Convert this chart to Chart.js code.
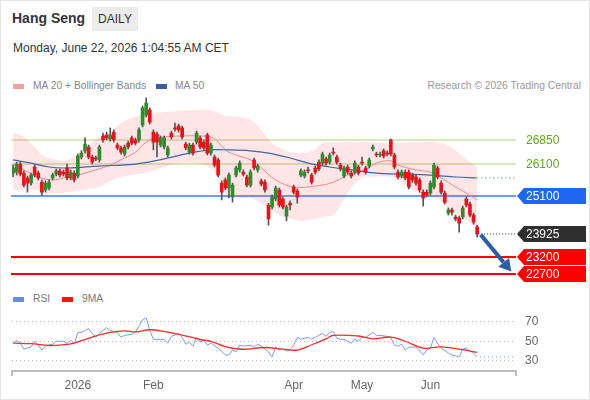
<!DOCTYPE html>
<html>
<head>
<meta charset="utf-8">
<script src="https://cdn.jsdelivr.net/npm/chart.js@4.4.1/dist/chart.umd.min.js"></script>
<style>
  body { margin: 0; background: #fff; font-family: "Liberation Sans", Arial, sans-serif; }
  #wrap { position: relative; width: 590px; height: 400px; overflow: hidden; }
  #frame { position: absolute; left: 0; top: 0; width: 588px; height: 398px; border: 1px solid #e4e4e4; }
  .abs { position: absolute; white-space: nowrap; }
  #title { left: 12px; top: 10px; font-size: 14px; font-weight: bold; color: #333; }
  #daily { left: 92px; top: 7px; width: 46px; height: 24px; line-height: 24px; text-align: center; background: #ececec; font-size: 12px; color: #333; }
  #date { left: 13px; top: 41px; font-size: 12px; color: #333; }
  .leg { font-size: 10.3px; color: #888; }
  .sw { position: absolute; width: 11px; height: 5px; }
  canvas { position: absolute; left: 0; }
</style>
</head>
<body>
<div id="wrap">
  <div id="frame"></div>
  <div class="abs" id="title">Hang Seng</div>
  <div class="abs" id="daily">DAILY</div>
  <div class="abs" id="date">Monday, June 22, 2026 1:04:55 AM CET</div>

  <div class="sw" style="left:13px;top:84px;background:#f4a0a0;"></div>
  <div class="abs leg" style="left:33px;top:80px;">MA 20 + Bollinger Bands</div>
  <div class="sw" style="left:156px;top:84px;background:#3a5e9e;"></div>
  <div class="abs leg" style="left:175px;top:80px;">MA 50</div>
  <div class="abs leg" style="right:9px;top:80px;color:#999;">Research © 2026 Trading Central</div>

  <div class="sw" style="left:13px;top:297px;background:#6b8de0;"></div>
  <div class="abs leg" style="left:33px;top:293px;color:#777;">RSI</div>
  <div class="sw" style="left:62px;top:297px;background:#ff1010;"></div>
  <div class="abs leg" style="left:82px;top:293px;color:#777;">9MA</div>

  <canvas id="price" width="590" height="200" style="top:90px"></canvas>
  <canvas id="rsi" width="590" height="90" style="top:305px"></canvas>
</div>
<script>
// daily candles, Dec 2025 .. Jun 19 2026
const opens = [25810,25840,26090,25810,25660,25500,26000,25810,25530,25290,
  25350,25660,25780,25880,25840,25970,25660,25810,25720,26310,
  26500,26620,26310,26280,26220,26960,26990,26870,27080,26680,
  26590,26400,26740,26900,26840,26840,27300,27610,27770,27080,
  27020,26680,26620,26370,27050,27210,27270,27210,26710,26460,
  26680,26770,26900,26770,26990,26430,26310,26220,25500,25600,
  25350,25070,25750,25910,25840,25690,25440,26220,25910,25570,
  25530,24820,24760,25010,25290,25010,24480,24880,25380,25260,
  25750,25720,25910,25750,25970,26150,26120,26250,26150,26460,
  26310,26060,25720,26000,25810,25840,26000,26150,25970,26030,
  26560,26400,26370,26500,26430,26840,26370,25840,25720,25840,
  25840,25750,25690,25600,25220,25220,25190,25380,25970,25500,
  25190,24570,24670,24450,24420,24450,25010,24850,24510,24140];
const highs = [26060,26150,26150,25880,25720,25810,26060,25880,25600,25570,
  25600,25810,25940,25940,25910,26090,25910,25880,26400,26500,
  26900,26680,26370,26340,26680,27050,27080,27210,27150,26740,
  26650,26680,26800,26960,26900,27210,27890,28140,27830,27150,
  27080,26960,26960,26650,27110,27360,27330,27270,26770,26740,
  26740,27110,26960,26840,27050,26740,26370,26280,25570,25660,
  25810,25500,26030,26190,25910,25750,25910,26280,26090,25630,
  25600,24880,25130,25410,25350,25070,24820,24950,25440,25320,
  25940,25910,26000,25810,26030,26220,26460,26310,26430,26590,
  26370,26120,26030,26060,25880,26190,26060,26310,26030,26280,
  26680,26460,26460,26560,26500,26870,26430,25910,25910,25910,
  25910,25810,25750,25660,25290,25290,25570,26120,26030,25570,
  25260,24730,24730,24510,24480,24790,25070,24910,24570,24200];
const lows = [25690,25750,25720,25380,25220,25440,25690,25600,25130,25220,
  25290,25600,25720,25690,25720,25600,25600,25530,25660,26250,
  26430,26250,26090,26190,26150,26770,26840,26800,26770,26530,
  26400,26340,26560,26680,26680,26770,27240,27550,27330,26530,
  26310,26620,26560,26310,26870,27110,27080,26870,26530,26400,
  26370,26710,26560,26530,26370,26370,26000,25690,24980,25290,
  25040,24910,25690,25840,25720,25380,25380,25910,25840,25410,
  25220,24200,24700,24950,24760,24700,24330,24670,25160,24880,
  25690,25660,25810,25470,25780,25880,26060,26060,26090,26370,
  26090,25880,25660,25780,25660,25780,25750,26060,25780,25970,
  26500,26310,26310,26280,26340,26340,25940,25630,25660,25600,
  25320,25530,25440,25220,24790,25070,25130,25320,25630,25160,
  24850,24510,24510,24330,23980,24390,24760,24450,24230,23830];
const closes = [25970,26090,25780,25440,25500,25750,25750,25660,25220,25500,
  25530,25750,25880,25750,25780,25660,25840,25600,26340,26430,
  26710,26310,26150,26250,26620,26840,26900,26990,26840,26590,
  26460,26620,26620,26740,26740,27150,27830,27980,27390,26770,
  26770,26900,26900,26590,26930,27180,27150,26930,26590,26680,
  26430,27050,26620,26590,26430,26680,26060,25750,25220,25350,
  25750,25440,25970,26120,25780,25440,25840,25970,26030,25470,
  25290,24390,25070,25350,24820,24760,24760,24820,25220,25070,
  25880,25840,25880,25530,25840,25940,26400,26120,26370,26430,
  26150,25940,25970,25840,25720,26120,25810,26120,25840,26220,
  26620,26370,26400,26340,26400,26400,26000,25690,25840,25660,
  25380,25600,25500,25290,25040,25130,25500,26060,25690,25220,
  24910,24670,24600,24390,24260,24730,24820,24510,24290,23925];

// moving averages and Bollinger envelope (candle index -> value)
const ma20Idx  = [0,3,7,11,14,18,23,27,31,34,37,40,46,53,55,57,59,62,66,69,73,78,84,89,94,98,101,105,107,112,116,119,123,126,129];
const ma20Vals = [26090,25910,25690,25600,25660,25750,25910,26060,26280,26460,26770,26900,26960,26960,26930,26770,26530,26370,26220,25970,25600,25380,25410,25530,25810,25910,26120,26190,26060,25910,25840,25660,25380,25190,24980];
const ma50Idx  = [0,5,10,15,24,34,42,49,55,60,66,71,77,82,88,94,101,107,116,123,129];
const ma50Vals = [26220,26120,26000,25970,26030,26090,26250,26430,26530,26530,26500,26430,26280,26120,26000,25910,25810,25780,25750,25690,25660];
const bandIdx   = [0,3,6,8,10,15,19,24,27,30,33,37,42,47,51,55,57,59,63,66,69,72,75,77,80,82,84,86,89,91,94,97,100,105,109,113,118,122,127,129];
const bandUpper = [27050,26930,26620,26370,26280,26220,26530,26930,27080,27360,27520,27640,27700,27740,27770,27760,27680,27580,27550,27460,27150,26740,26560,26460,26430,26460,26550,26740,26760,26770,26770,26770,26770,26740,26760,26770,26770,26590,26150,26000];
const bandLower = [25290,25290,25290,25250,25190,25220,25290,25380,25560,25690,25750,25820,26000,26120,26100,25970,25660,25190,25040,25040,24880,24650,24450,24400,24330,24360,24390,24450,24510,24820,25350,25660,25690,25690,25440,25190,25000,24640,24290,24050];

// RSI panel
const rsiIdx  = [0,1,2,3,4,5,6,7,8,9,11,12,14,15,16,17,18,19,21,22,23,24,25,26,27,29,30,31,33,34,36,37,38,39,41,42,43,44,46,47,48,49,50,51,52,53,54,55,57,59,60,61,62,63,64,66,67,68,69,71,72,73,74,75,76,77,78,79,80,82,83,84,86,87,88,89,90,91,92,94,95,96,97,98,100,101,102,104,105,106,107,108,109,110,112,113,114,115,116,117,118,119,121,122,124,125,126,127,128,129];
const rsiVals = [48,51,48,42,43,44,50,46,41,45,47,50,50,48,51,47,59,59,63,58,54,58,61,64,61,59,54,56,57,59,72,74,61,52,52,52,48,55,58,54,47,49,45,54,49,51,46,48,43,36,36,41,39,46,45,46,44,47,45,39,34,44,41,42,40,41,46,54,52,54,52,54,58,55,59,60,53,52,52,48,52,50,54,54,59,56,56,55,54,46,45,47,41,44,44,40,36,41,43,54,48,43,38,36,34,42,43,40,38,34];
const ma9Idx  = [0,5,10,14,17,22,27,31,34,38,41,47,52,55,59,64,70,75,79,83,87,89,96,100,105,109,114,119,124,129];
const ma9Vals = [48,47.5,45.7,46.4,48.2,54.3,59,60.7,59.6,61.8,60.7,56.4,51.8,50,44.6,41.8,43.6,42,41,46.4,52.5,56,55.4,52.5,54.3,50,42.9,44.3,42,38.6];

// price levels on the right
const levelValues = [26850, 26100, 25100, 23925, 23200, 22700];
const levelKinds  = ['res', 'res', 'pivot', 'last', 'sup', 'sup'];
const arrowFrom = [130, 23900];
const arrowTo   = [138.5, 22760];

const tickIdx    = [18, 39, 78, 97, 116];
const tickLabels = ['2026', 'Feb', 'Apr', 'May', 'Jun'];

const xMin = -0.3, xMax = 139.8;
const FONT = '"Liberation Sans", Arial, sans-serif';

const pts = (idx, vals) => idx.map((i, k) => ({ x: i, y: vals[k] }));
const candleIdx = closes.map((c, i) => i);
const bodyColors = closes.map((c, i) => c >= opens[i] ? '#2e8b2e' : '#e5141a');

function tag(ctx, y, color, text) {
  const x0 = 517, x1 = 524, x2 = 586, h = 8;
  ctx.beginPath();
  ctx.moveTo(x0, y);
  ctx.lineTo(x1, y - h);
  ctx.lineTo(x2, y - h);
  ctx.lineTo(x2, y + h);
  ctx.lineTo(x1, y + h);
  ctx.closePath();
  ctx.fillStyle = color;
  ctx.fill();
  ctx.fillStyle = '#fff';
  ctx.font = '12px ' + FONT;
  ctx.textAlign = 'left';
  ctx.textBaseline = 'middle';
  ctx.fillText(text, 526, y + 0.5);
}

const levelsPlugin = {
  id: 'levels',
  beforeDatasetsDraw(chart) {
    const { ctx, chartArea: a, scales: { x, y } } = chart;
    ctx.save();
    levelValues.forEach((v, k) => {
      const py = Math.round(y.getPixelForValue(v));
      const kind = levelKinds[k];
      if (kind === 'res') {
        ctx.strokeStyle = '#c9e1ab'; ctx.lineWidth = 1.5;
        ctx.beginPath(); ctx.moveTo(a.left - 1, py); ctx.lineTo(a.right, py); ctx.stroke();
      } else if (kind === 'pivot') {
        ctx.strokeStyle = '#6f9cf2'; ctx.lineWidth = 2;
        ctx.beginPath(); ctx.moveTo(a.left - 1, py); ctx.lineTo(a.right, py); ctx.stroke();
      }
    });
    ctx.restore();
  },
  afterDatasetsDraw(chart) {
    const { ctx, chartArea: a, scales: { x, y } } = chart;
    const last = closes.length - 1;
    ctx.save();
    // MA50 continuation
    ctx.setLineDash([1, 3]);
    ctx.strokeStyle = '#5a7cc0'; ctx.lineWidth = 1;
    const m = y.getPixelForValue(ma50Vals[ma50Vals.length - 1]);
    ctx.beginPath(); ctx.moveTo(x.getPixelForValue(last) + 4, m); ctx.lineTo(a.right, m); ctx.stroke();
    ctx.setLineDash([]);

    levelValues.forEach((v, k) => {
      const py = Math.round(y.getPixelForValue(v));
      const kind = levelKinds[k];
      if (kind === 'res') {
        ctx.fillStyle = '#62a61e';
        ctx.font = '12px ' + FONT;
        ctx.textAlign = 'left'; ctx.textBaseline = 'middle';
        ctx.fillText(String(v), 526, py + 0.5);
      } else if (kind === 'pivot') {
        tag(ctx, py, '#1f66f2', String(v));
      } else if (kind === 'last') {
        ctx.setLineDash([1, 2]); ctx.strokeStyle = '#333'; ctx.lineWidth = 1;
        ctx.beginPath(); ctx.moveTo(x.getPixelForValue(last) + 4, py); ctx.lineTo(a.right, py); ctx.stroke();
        ctx.setLineDash([]);
        tag(ctx, py, '#2f2f2f', String(v));
      } else {
        ctx.strokeStyle = '#ff0000'; ctx.lineWidth = 2;
        ctx.beginPath(); ctx.moveTo(a.left - 1, py); ctx.lineTo(a.right, py); ctx.stroke();
        tag(ctx, py, '#ff0000', String(v));
      }
    });

    // forecast arrow
    const x1 = x.getPixelForValue(arrowFrom[0]), y1 = y.getPixelForValue(arrowFrom[1]);
    const x2 = x.getPixelForValue(arrowTo[0]), y2 = y.getPixelForValue(arrowTo[1]);
    const ang = Math.atan2(y2 - y1, x2 - x1), hl = 12, hw = 7;
    const bx = x2 - hl * Math.cos(ang), by = y2 - hl * Math.sin(ang);
    ctx.strokeStyle = '#2b5ea7'; ctx.fillStyle = '#2b5ea7'; ctx.lineWidth = 4;
    ctx.beginPath(); ctx.moveTo(x1, y1); ctx.lineTo(bx, by); ctx.stroke();
    ctx.beginPath();
    ctx.moveTo(x2, y2);
    ctx.lineTo(bx + hw * Math.sin(ang), by - hw * Math.cos(ang));
    ctx.lineTo(bx - hw * Math.sin(ang), by + hw * Math.cos(ang));
    ctx.closePath(); ctx.fill();
    ctx.restore();
  }
};

new Chart(document.getElementById('price'), {
  type: 'bar',
  data: {
    datasets: [
      { type: 'line', data: pts(bandIdx, bandUpper), borderWidth: 0, pointRadius: 0, tension: 0.4,
        fill: '+1', backgroundColor: 'rgba(255,40,40,0.12)', order: 10 },
      { type: 'line', data: pts(bandIdx, bandLower), borderWidth: 0, pointRadius: 0, tension: 0.4,
        fill: false, order: 9 },
      { type: 'line', data: pts(ma20Idx, ma20Vals), borderColor: '#f58787', borderWidth: 1,
        pointRadius: 0, tension: 0.4, fill: false, order: 6 },
      { type: 'line', data: pts(ma50Idx, ma50Vals), borderColor: '#3f66ad', borderWidth: 1.2,
        pointRadius: 0, tension: 0.4, fill: false, order: 5 },
      { data: candleIdx.map(i => ({ x: i, y: [lows[i], highs[i]] })), backgroundColor: '#555',
        barThickness: 1, grouped: false, order: 2 },
      { data: candleIdx.map(i => ({ x: i, y: [opens[i], closes[i]] })), backgroundColor: bodyColors,
        barThickness: 3, minBarLength: 1, grouped: false, order: 1 }
    ]
  },
  options: {
    responsive: false,
    animation: false,
    layout: { padding: { left: 12, right: 74, top: 5, bottom: 10 } },
    plugins: { legend: { display: false }, tooltip: { enabled: false } },
    scales: {
      x: { type: 'linear', min: xMin, max: xMax, offset: false, display: false },
      y: { min: 22500, max: 28230, display: false }
    }
  },
  plugins: [levelsPlugin]
});

const rsiPlugin = {
  id: 'rsiExt',
  afterDatasetsDraw(chart) {
    const { ctx, chartArea: a, scales: { x, y } } = chart;
    const py = y.getPixelForValue(rsiVals[rsiVals.length - 1]);
    ctx.save();
    ctx.setLineDash([1, 3]); ctx.strokeStyle = '#6b8de0'; ctx.lineWidth = 1;
    ctx.beginPath(); ctx.moveTo(x.getPixelForValue(rsiIdx[rsiIdx.length - 1]) + 3, py); ctx.lineTo(a.right, py); ctx.stroke();
    ctx.restore();
  }
};

const labelFor = v => { const k = tickIdx.indexOf(v); return k < 0 ? '' : tickLabels[k]; };

new Chart(document.getElementById('rsi'), {
  type: 'line',
  data: {
    datasets: [
      { data: pts(rsiIdx, rsiVals), borderColor: '#7b9cf0', borderWidth: 1, pointRadius: 0, tension: 0, order: 2 },
      { data: pts(ma9Idx, ma9Vals), borderColor: '#ff2a2a', borderWidth: 1.3, pointRadius: 0, tension: 0.4, order: 1 }
    ]
  },
  options: {
    responsive: false,
    animation: false,
    layout: { padding: { left: 12, right: 0, top: 7, bottom: 2 } },
    plugins: { legend: { display: false }, tooltip: { enabled: false } },
    scales: {
      x: {
        type: 'linear', min: xMin, max: xMax,
        afterBuildTicks: s => { s.ticks = [xMin, ...tickIdx, xMax].map(v => ({ value: v })); },
        afterFit: s => { s.height = 22; },
        ticks: { autoSkip: false, maxRotation: 0, padding: 2, color: '#666',
                 font: { family: FONT, size: 12 }, callback: v => labelFor(v) },
        grid: { drawOnChartArea: false, tickLength: 5, lineWidth: 2,
                color: c => (c.tick && (c.tick.value === xMin || c.tick.value === xMax)) ? '#bdbdbd' : 'rgba(0,0,0,0)' },
        border: { display: true, color: '#bdbdbd', width: 2 }
      },
      y: {
        position: 'right', min: 19.5, max: 80,
        afterBuildTicks: s => { s.ticks = [30, 50, 70].map(v => ({ value: v })); },
        afterFit: s => { s.width = 74; s.paddingTop = 0; s.paddingBottom = 0; },
        ticks: { padding: 9, color: '#666', font: { family: FONT, size: 12 } },
        grid: { drawTicks: false, color: '#b5b5b5', lineWidth: 1 },
        border: { display: false, dash: [1, 3] }
      }
    }
  },
  plugins: [rsiPlugin]
});
</script>
</body>
</html>
